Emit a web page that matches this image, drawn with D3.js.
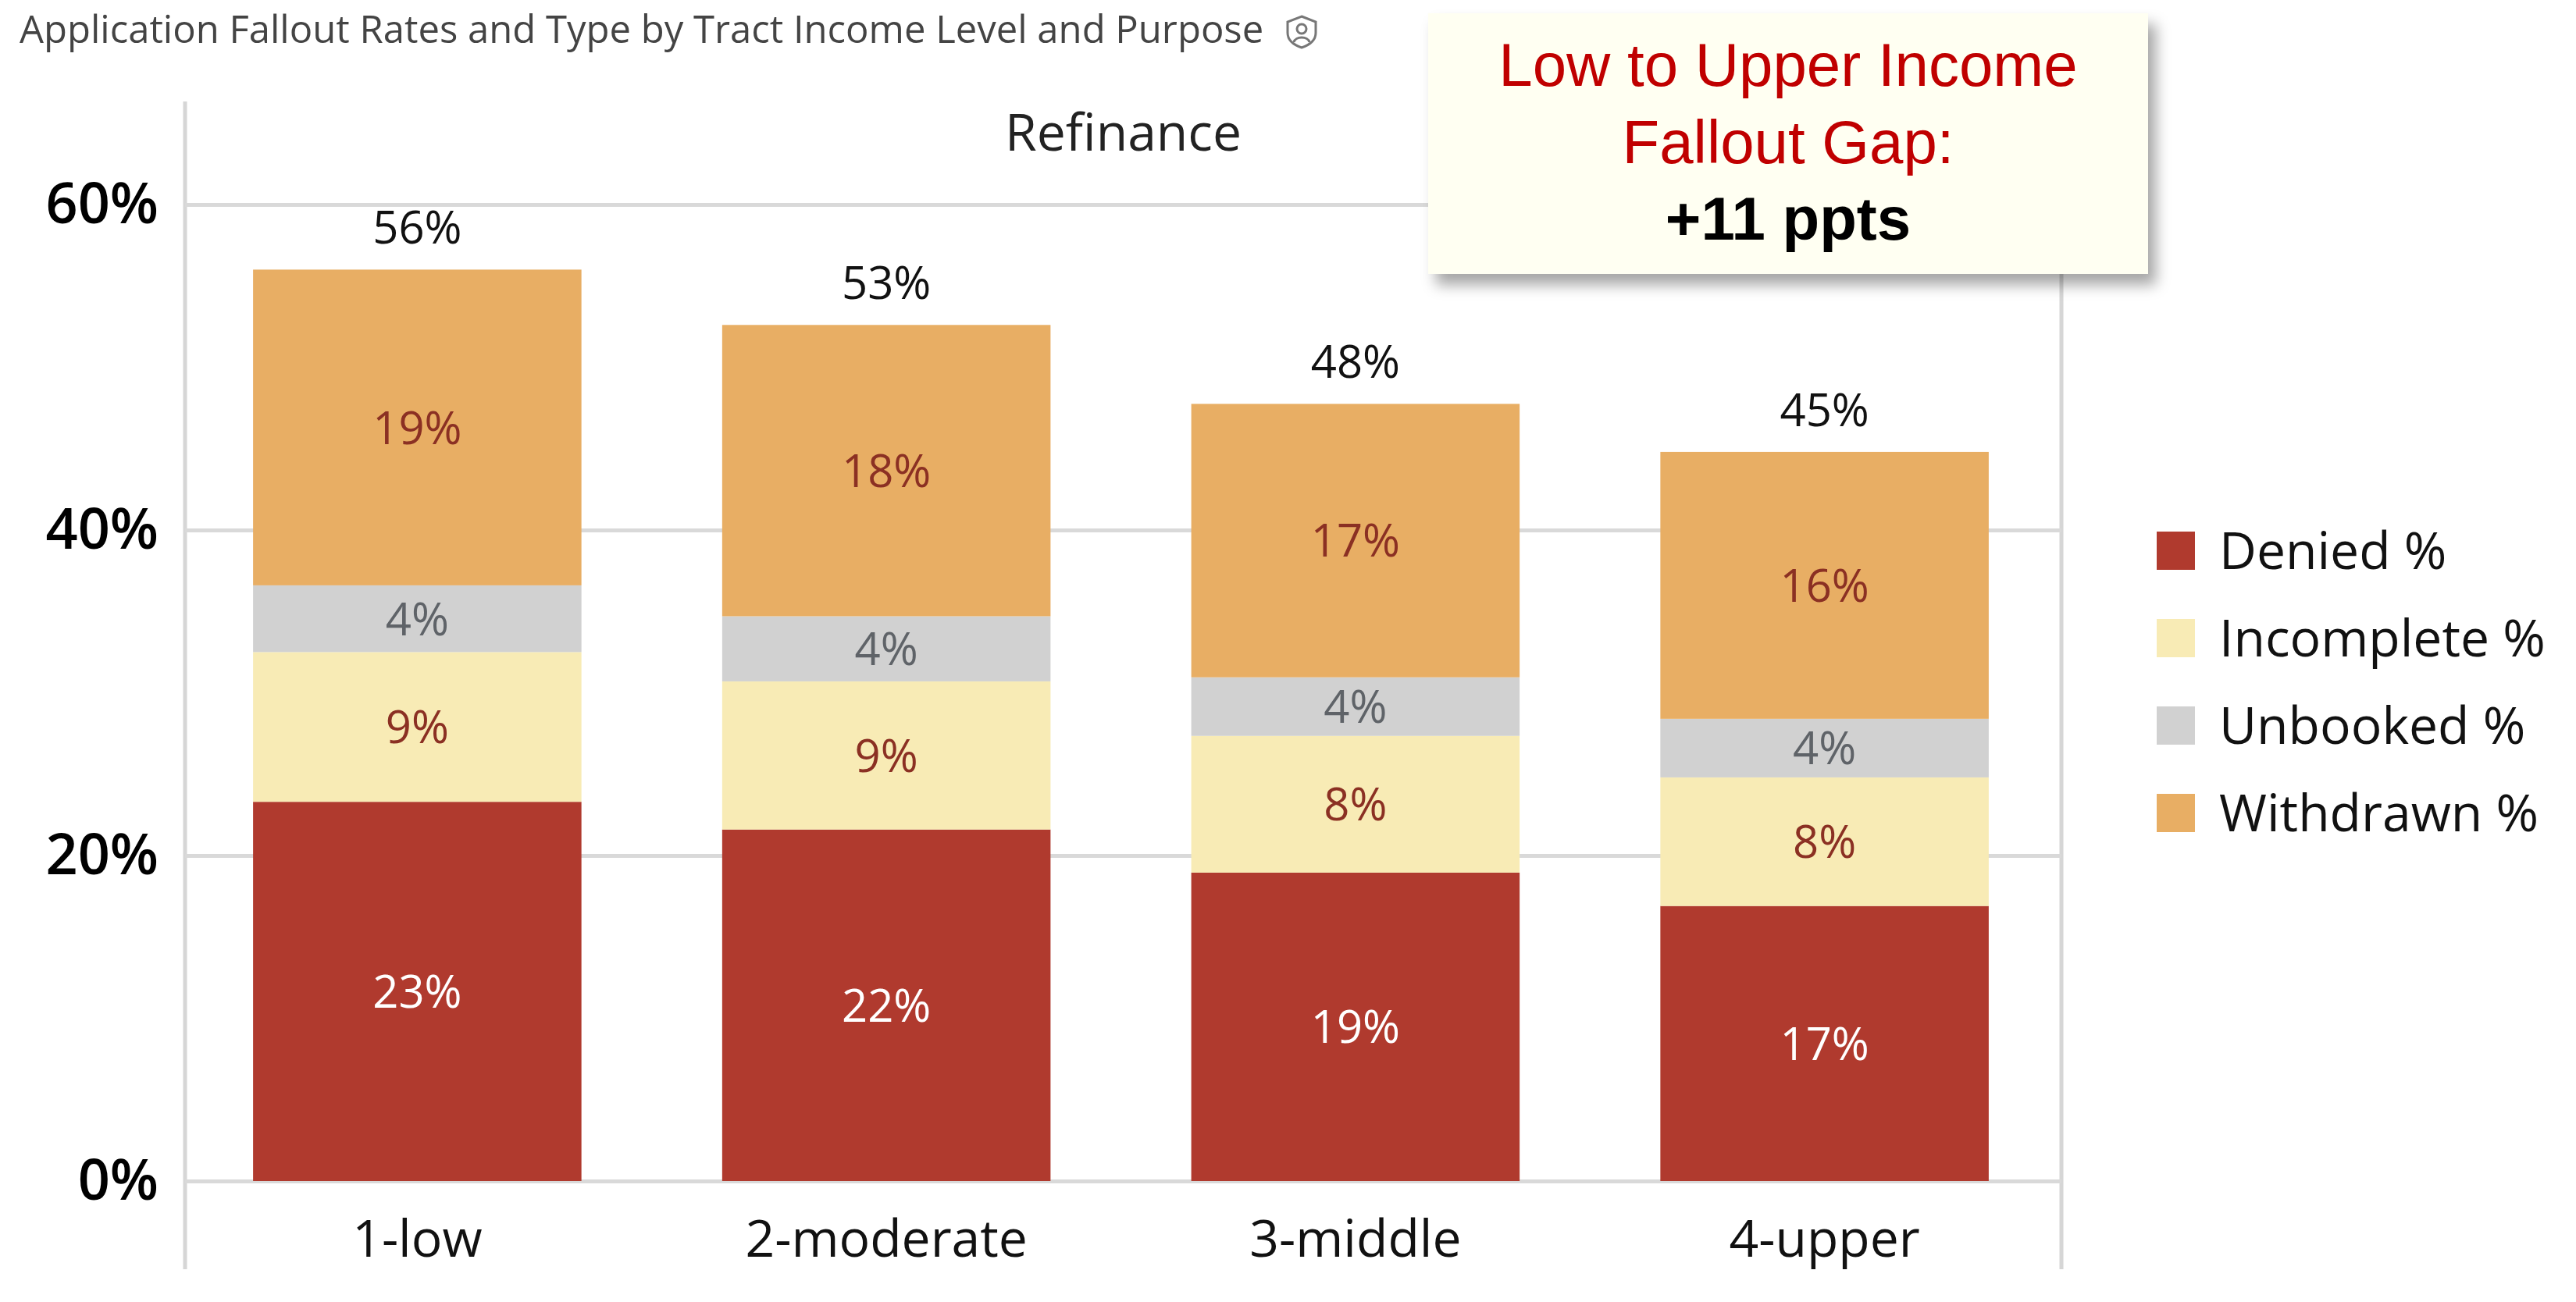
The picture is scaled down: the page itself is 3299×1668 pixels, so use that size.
<!DOCTYPE html>
<html>
<head>
<meta charset="utf-8">
<script src="https://cdn.jsdelivr.net/npm/d3@7"></script>
<style>
  body { margin: 0; background: #fff; }
  text { font-family: "Open Sans", "Noto Sans", sans-serif; }
</style>
</head>
<body>
<svg id="chart" width="3299" height="1668"></svg>
<script>
  // data
  var categories = ['1-low', '2-moderate', '3-middle', '4-upper'];
  var seriesNames = ['Denied %', 'Incomplete %', 'Unbooked %', 'Withdrawn %'];
  var denied = [23.3, 21.6, 18.95, 16.9];
  var incomplete = [9.2, 9.1, 8.4, 7.9];
  var unbooked = [4.1, 4.0, 3.6, 3.6];
  var withdrawn = [19.4, 17.9, 16.8, 16.4];
  var yTicks = [0, 20, 40, 60];

  var chartTitle = 'Application Fallout Rates and Type by Tract Income Level and Purpose';
  var panelTitle = 'Refinance';
  var calloutLines = ['Low to Upper Income', 'Fallout Gap:', '+11 ppts'];

  (function () {
    'use strict';

    var fills = ['#B03A2E', '#F8EBB5', '#D1D1D1', '#E8AE64'];
    var labelFills = ['#ffffff', '#8B3023', '#5F6368', '#8B3023'];

    var svg = d3.select('#chart');
    var plotLeft = 237, plotRight = 2640, plotTop = 262, plotBottom = 1513;

    var rows = categories.map(function (c, i) {
      var r = { category: c };
      r[seriesNames[0]] = denied[i];
      r[seriesNames[1]] = incomplete[i];
      r[seriesNames[2]] = unbooked[i];
      r[seriesNames[3]] = withdrawn[i];
      return r;
    });
    var stacked = d3.stack().keys(seriesNames)(rows);

    var x = d3.scaleBand().domain(categories).range([plotLeft - 3, plotRight - 3])
      .paddingInner(0.3).paddingOuter(0.15);
    var y = d3.scaleLinear().domain([0, 60]).range([plotBottom, plotTop]);
    var fmt = function (v) { return Math.round(v) + '%'; };

    // shadow for the callout
    var defs = svg.append('defs');
    var f = defs.append('filter').attr('id', 'shadow')
      .attr('x', '-10%').attr('y', '-10%').attr('width', '130%').attr('height', '140%');
    f.append('feDropShadow').attr('dx', 10).attr('dy', 14).attr('stdDeviation', 9)
      .attr('flood-color', '#000').attr('flood-opacity', 0.35);

    // title
    svg.append('text').attr('x', 25).attr('y', 55)
      .attr('font-size', 49).attr('fill', '#444').text(chartTitle);

    // little shield icon after the title
    var icon = svg.append('g').attr('transform', 'translate(1667,40)')
      .attr('fill', 'none').attr('stroke', '#777').attr('stroke-width', 3);
    icon.append('path').attr('d', 'M0,-19 L18,-12 L18,2 C18,12 9,18 0,21 C-9,18 -18,12 -18,2 L-18,-12 Z');
    icon.append('circle').attr('cx', 0).attr('cy', -3).attr('r', 6);
    icon.append('path').attr('d', 'M-10,14 C-8,6 8,6 10,14');

    // frame lines
    svg.selectAll('line.frame').data([plotLeft, plotRight]).enter().append('line')
      .attr('class', 'frame')
      .attr('x1', function (d) { return d; }).attr('x2', function (d) { return d; })
      .attr('y1', 130).attr('y2', 1626)
      .attr('stroke', '#d6d6d6').attr('stroke-width', 5);

    // y axis with gridlines
    var yAxis = svg.append('g').attr('transform', 'translate(' + plotLeft + ',0)')
      .call(d3.axisLeft(y).tickValues(yTicks).tickSize(-(plotRight - plotLeft))
        .tickPadding(34).tickFormat(function (d) { return d + '%'; }));
    yAxis.select('.domain').remove();
    yAxis.selectAll('.tick line').attr('stroke', '#d9d9d9').attr('stroke-width', 5);
    yAxis.selectAll('.tick text').attr('font-size', 72).attr('font-weight', 600)
      .attr('fill', '#000').style('font-family', '"Open Sans", sans-serif');

    // panel title
    svg.append('text').attr('x', (plotLeft + plotRight) / 2).attr('y', 193)
      .attr('text-anchor', 'middle').attr('font-size', 66).attr('fill', '#222')
      .text(panelTitle);

    // bars
    var layers = svg.append('g').selectAll('g.layer').data(stacked).enter().append('g')
      .attr('class', 'layer')
      .attr('fill', function (d, i) { return fills[i]; });

    layers.selectAll('rect').data(function (d) { return d; }).enter().append('rect')
      .attr('x', function (d) { return x(d.data.category); })
      .attr('width', x.bandwidth())
      .attr('y', function (d) { return y(d[1]); })
      .attr('height', function (d) { return y(d[0]) - y(d[1]); });

    // segment labels
    stacked.forEach(function (layer, li) {
      svg.append('g').selectAll('text').data(layer).enter().append('text')
        .attr('x', function (d) { return x(d.data.category) + x.bandwidth() / 2; })
        .attr('y', function (d) { return (y(d[0]) + y(d[1])) / 2; })
        .attr('dy', '0.36em')
        .attr('text-anchor', 'middle').attr('font-size', 58)
        .attr('fill', labelFills[li])
        .text(function (d) { return fmt(d[1] - d[0]); });
    });

    // totals
    var last = stacked[stacked.length - 1];
    svg.append('g').selectAll('text').data(last).enter().append('text')
      .attr('x', function (d) { return x(d.data.category) + x.bandwidth() / 2; })
      .attr('y', function (d) { return y(d[1]) - 33; })
      .attr('text-anchor', 'middle').attr('font-size', 58).attr('fill', '#111')
      .text(function (d) { return fmt(d[1]); });

    // x axis labels
    var xAxis = svg.append('g').attr('transform', 'translate(0,' + plotBottom + ')')
      .call(d3.axisBottom(x).tickSize(0).tickPadding(50));
    xAxis.select('.domain').remove();
    xAxis.selectAll('.tick text').attr('font-size', 66).attr('fill', '#111')
      .style('font-family', '"Open Sans", sans-serif');

    // legend
    var legend = svg.append('g').selectAll('g').data(seriesNames).enter().append('g')
      .attr('transform', function (d, i) { return 'translate(2762,' + (705 + i * 112) + ')'; });
    legend.append('rect').attr('x', 0).attr('y', -24).attr('width', 49).attr('height', 49)
      .attr('fill', function (d, i) { return fills[i]; });
    legend.append('text').attr('x', 80).attr('dy', '0.36em')
      .attr('font-size', 66).attr('fill', '#111')
      .text(function (d) { return d; });

    // callout box
    var callout = svg.append('g');
    callout.append('rect').attr('x', 1829).attr('y', 17).attr('width', 922).attr('height', 334)
      .attr('fill', '#FFFFF2').attr('filter', 'url(#shadow)');
    callout.selectAll('text').data(calloutLines).enter().append('text')
      .attr('x', 2290)
      .attr('y', function (d, i) { return 110 + i * 98.5; })
      .attr('text-anchor', 'middle')
      .style('font-family', '"Liberation Sans", Arial, sans-serif')
      .attr('font-size', 78)
      .attr('font-weight', function (d, i) { return i === 2 ? 700 : 400; })
      .attr('fill', function (d, i) { return i === 2 ? '#000' : '#C00000'; })
      .text(function (d) { return d; });
  })();
</script>
</body>
</html>
